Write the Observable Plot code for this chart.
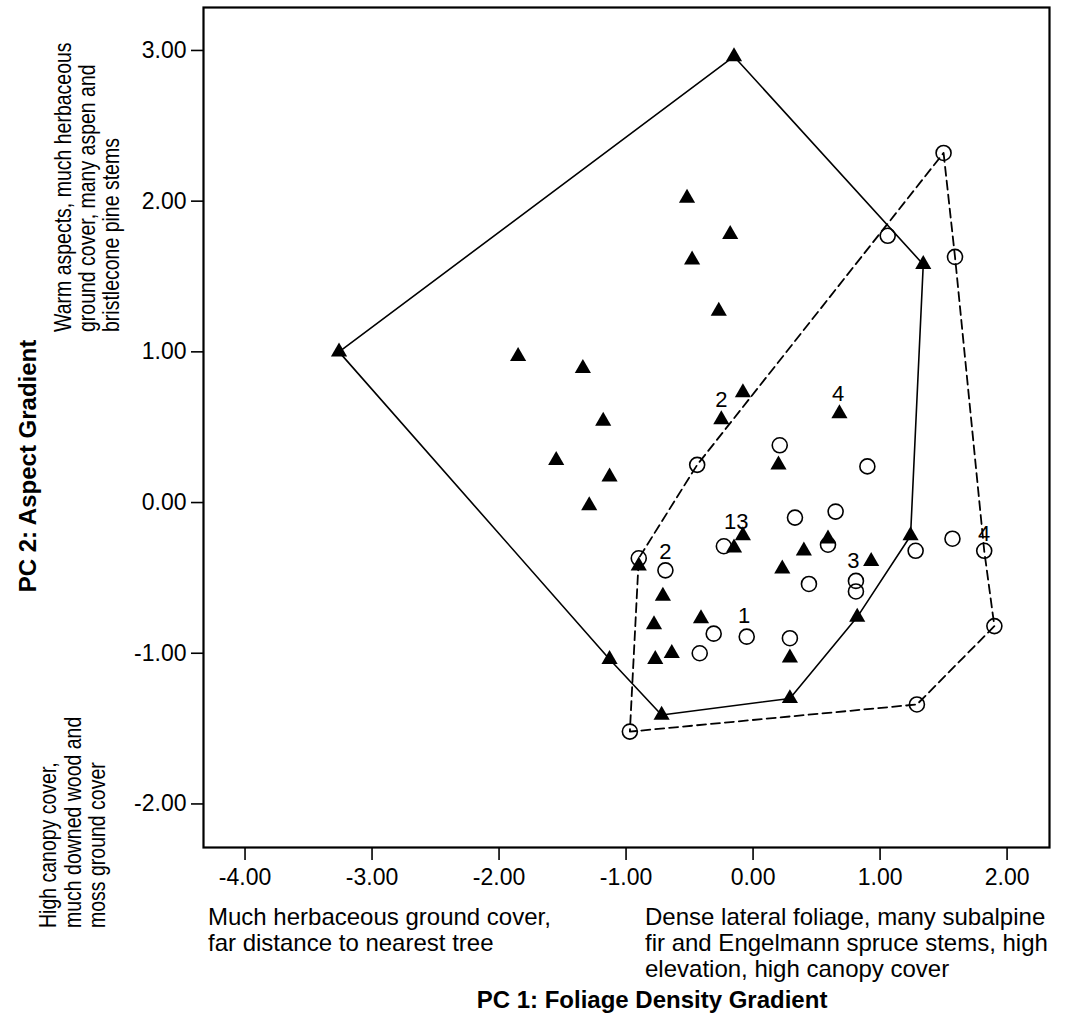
<!DOCTYPE html>
<html><head><meta charset="utf-8">
<script src="https://cdn.jsdelivr.net/npm/d3@7"></script>
<script src="https://cdn.jsdelivr.net/npm/@observablehq/plot@0.6"></script>
<style>body{margin:0;background:#fff} #chart{width:1072px;height:1024px}</style>
</head><body><div id="chart"></div>
<script>
// Group 1: filled triangles (solid hull)
const triX = [-0.15, 1.34, 1.24, 0.82, 0.29, -0.72, -1.13, -3.26,
  -0.52, -0.18, -0.48, -0.27, -1.85, -1.34, -1.18, -1.55, -1.13, -1.29,
  -0.08, -0.25, 0.68, 0.20, -0.08, -0.15, 0.40, 0.23, 0.59, 0.93,
  -0.90, -0.71, -0.78, -0.41, -0.64, -0.77, 0.29];
const triY = [2.96, 1.58, -0.22, -0.76, -1.30, -1.41, -1.04, 1.00,
  2.02, 1.78, 1.61, 1.27, 0.97, 0.89, 0.54, 0.28, 0.17, -0.02,
  0.73, 0.55, 0.59, 0.25, -0.22, -0.30, -0.32, -0.44, -0.24, -0.39,
  -0.42, -0.62, -0.81, -0.77, -1.00, -1.04, -1.03];
const triHull = [0, 1, 2, 3, 4, 5, 6, 7, 0];

// Group 2: open circles (dashed hull)
const circX = [1.50, 1.59, 1.82, 1.90, 1.29, -0.97, -0.90, -0.44,
  1.06, 0.21, 0.90, 0.33, 0.65, -0.23, 0.59, 1.28, 1.57, -0.69,
  0.44, 0.81, 0.81, -0.31, -0.05, 0.29, -0.42];
const circY = [2.32, 1.63, -0.32, -0.82, -1.34, -1.52, -0.37, 0.25,
  1.77, 0.38, 0.24, -0.10, -0.06, -0.29, -0.28, -0.32, -0.24, -0.45,
  -0.54, -0.52, -0.59, -0.87, -0.89, -0.90, -1.00];
const circHull = [0, 1, 2, 3, 4, 5, 6, 7, 0];

// Point labels
const labelText = ["2", "4", "1", "3", "2", "3", "1", "4"];
const labelX = [-0.25, 0.67, -0.18, -0.085, -0.69, 0.79, -0.07, 1.82];
const labelY = [0.68, 0.72, -0.13, -0.13, -0.33, -0.39, -0.75, -0.21];

const xTicks = [-4, -3, -2, -1, 0, 1, 2];
const yTicks = [-2, -1, 0, 1, 2, 3];

const xTitle = "PC 1: Foliage Density Gradient";
const yTitle = "PC 2: Aspect Gradient";
const xLowNote = ["Much herbaceous ground cover,", "far distance to nearest tree"];
const xHighNote = ["Dense lateral foliage, many subalpine", "fir and Engelmann spruce stems, high", "elevation, high canopy cover"];
const yHighNote = ["Warm aspects, much herbaceous", "ground cover, many aspen and", "bristlecone pine stems"];
const yLowNote = ["High canopy cover,", "much downed wood and", "moss ground cover"];

const FONT = "'Liberation Sans', Arial, Helvetica, sans-serif";
const tri = triX.map((x, i) => ({x, y: triY[i]}));
const circ = circX.map((x, i) => ({x, y: circY[i]}));
const labels = labelText.map((t, i) => ({t, x: labelX[i], y: labelY[i]}));
const fmt = d => d.toFixed(2);

const chart = Plot.plot({
  width: 1072, height: 1024,
  marginLeft: 203, marginRight: 23, marginTop: 7, marginBottom: 177,
  style: {fontFamily: FONT, fontSize: "23px", color: "#000", background: "#fff"},
  x: {domain: [-4.327, 2.334]},
  y: {domain: [-2.289, 3.285]},
  marks: [
    Plot.axisX({ticks: xTicks, tickFormat: fmt, tickSize: 13, tickPadding: 8, strokeWidth: 1.6, label: null}),
    Plot.axisY({ticks: yTicks, tickFormat: fmt, tickSize: 12, tickPadding: 5, strokeWidth: 1.6, label: null}),
    Plot.frame({stroke: "#000", strokeWidth: 2.2}),
    Plot.line(triHull.map(i => tri[i]), {x: "x", y: "y", stroke: "#000", strokeWidth: 1.6}),
    Plot.line(circHull.map(i => circ[i]), {x: "x", y: "y", stroke: "#000", strokeWidth: 1.8, strokeDasharray: "9,5"}),
    Plot.dot(tri, {x: "x", y: "y", symbol: "triangle", r: 6, fill: "#000"}),
    Plot.dot(circ, {x: "x", y: "y", symbol: "circle", r: 7.5, stroke: "#000", strokeWidth: 1.6, fill: "none"}),
    Plot.text(labels, {x: "x", y: "y", text: "t", fontSize: 22})
  ]
});
document.getElementById("chart").appendChild(chart);

const svg = d3.select(chart);
const g = svg.append("g").attr("font-family", FONT).attr("fill", "#000");
function hLines(lines, x, y0, step, size, weight, anchor) {
  lines.forEach((s, i) => g.append("text").attr("x", x).attr("y", y0 + i * step)
    .attr("font-size", size).attr("font-weight", weight).attr("text-anchor", anchor).text(s));
}
function vLines(lines, x0, step, yb, size, weight, anchor, squeeze) {
  lines.forEach((s, i) => g.append("text")
    .attr("transform", `translate(${x0 + i * step},${yb}) rotate(-90) scale(${squeeze},1)`)
    .attr("dy", "0.35em").attr("font-size", size).attr("font-weight", weight)
    .attr("text-anchor", anchor).text(s));
}
hLines(xLowNote, 208, 925, 26, 24, "normal", "start");
hLines(xHighNote, 645, 925, 26, 24, "normal", "start");
hLines([xTitle], 652, 1008, 26, 24, "bold", "middle");
vLines([yTitle], 28, 0, 466, 24, "bold", "middle", 1);
vLines(yHighNote, 63, 24, 332, 23.5, "normal", "start", 0.83);
vLines(yLowNote, 48, 24.5, 928, 23.5, "normal", "start", 0.83);
</script>
</body></html>
